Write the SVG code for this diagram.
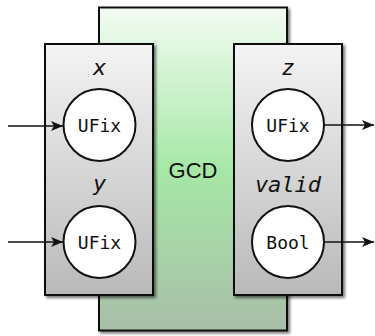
<svg xmlns="http://www.w3.org/2000/svg" width="375" height="336" viewBox="0 0 375 336">
  <defs>
    <linearGradient id="gcdFill" x1="0" y1="0" x2="0" y2="1">
      <stop offset="0" stop-color="#f3fcf3"/>
      <stop offset="0.5" stop-color="#a6e8a6"/>
      <stop offset="1" stop-color="#a9bea9"/>
    </linearGradient>
    <linearGradient id="portFill" x1="0" y1="0" x2="0" y2="1">
      <stop offset="0" stop-color="#f4f4f4"/>
      <stop offset="1" stop-color="#b9b9b9"/>
    </linearGradient>
    <filter id="shadow" x="-10%" y="-10%" width="125%" height="125%">
      <feDropShadow dx="2" dy="2" stdDeviation="1.5" flood-color="#000" flood-opacity="0.55"/>
    </filter>
    <marker id="arrow" viewBox="0 0 12 10" refX="12" refY="5" markerWidth="12" markerHeight="10" markerUnits="userSpaceOnUse" orient="auto">
      <path d="M0,0 L12,5 L0,10 L3,5 Z" fill="#111"/>
    </marker>
    <style>
      .box { stroke: #111; stroke-width: 2; filter: url(#shadow); }
      .port { fill: url(#portFill); }
      .node { fill: #fff; stroke: #111; stroke-width: 2; }
      .type { font-family: "DejaVu Sans Mono", monospace; font-size: 18px; fill: #111; text-anchor: middle; }
      .name { font-family: "DejaVu Sans Mono", monospace; font-style: italic; font-size: 22px; fill: #111; text-anchor: middle; }
      .title { font-family: "Liberation Sans", Arial, sans-serif; font-size: 22px; fill: #111; text-anchor: middle; }
      .wire { stroke: #111; stroke-width: 1.6; fill: none; marker-end: url(#arrow); }
    </style>
  </defs>

  <!-- module body -->
  <g id="gcd">
    <rect class="box" x="99" y="7.5" width="188" height="323" fill="url(#gcdFill)"/>
    <text class="title" x="193" y="177.5">GCD</text>
  </g>

  <!-- input ports -->
  <g id="inputs">
    <rect class="box port" x="45" y="44" width="108" height="251"/>
  </g>
  <g id="x">
    <text class="name" x="99.5" y="75">x</text>
    <circle class="node" cx="99.5" cy="125" r="36"/>
    <text class="type" x="99.5" y="131.5">UFix</text>
  </g>
  <g id="y">
    <text class="name" x="99.5" y="191">y</text>
    <circle class="node" cx="99.5" cy="242" r="36"/>
    <text class="type" x="99.5" y="248.5">UFix</text>
  </g>

  <!-- output ports -->
  <g id="outputs">
    <rect class="box port" x="234" y="44" width="108" height="251"/>
  </g>
  <g id="z">
    <text class="name" x="288" y="75">z</text>
    <circle class="node" cx="288" cy="125" r="36"/>
    <text class="type" x="288" y="131.5">UFix</text>
  </g>
  <g id="valid">
    <text class="name" x="288" y="192">valid</text>
    <circle class="node" cx="288" cy="242" r="36"/>
    <text class="type" x="288" y="248.5">Bool</text>
  </g>

  <!-- connectors -->
  <g id="connectors">
    <line class="wire" x1="8" y1="126" x2="63" y2="126"/>
    <line class="wire" x1="8" y1="242" x2="63" y2="242"/>
    <line class="wire" x1="324" y1="125" x2="374" y2="125"/>
    <line class="wire" x1="324" y1="242" x2="374" y2="242"/>
  </g>
</svg>
